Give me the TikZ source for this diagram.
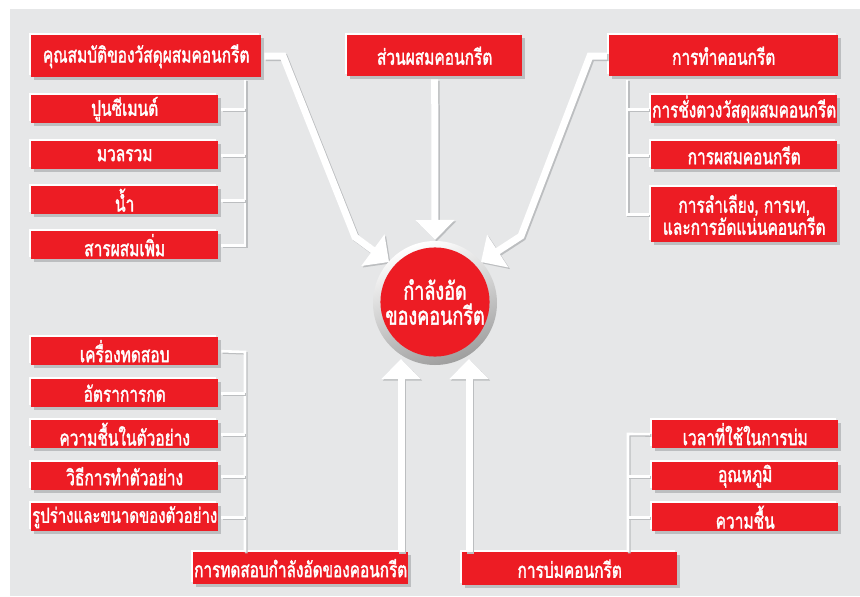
\documentclass[tikz,border=0pt]{standalone}
\usepackage{fontspec}
\usepackage{graphicx}
\newfontfamily\thaifont[Script=Thai, FakeStretch=0.72, FakeBold=1.6]{Loma}
\usetikzlibrary{arrows.meta,shadows}
\definecolor{bred}{HTML}{ED1C24}
\definecolor{bg}{HTML}{E6E7E8}
\definecolor{shg}{HTML}{BCBEC0}
\newcommand\twodraw[2]{%
  \draw[#1, draw=shg, transform canvas={xshift=1.3pt,yshift=-1.3pt}] #2;
  \draw[#1, draw=white] #2;}
\newcommand\twoarrow[2]{%
  \draw[#1, draw=shg, transform canvas={xshift=1.5pt,yshift=-1.5pt}] #2;
  \draw[#1, draw=white] #2;}
\begin{document}
\begin{tikzpicture}[x=1pt,y=-1pt,
  rbox/.style 2 args={fill=bred, text=white, anchor=north west, inner sep=0pt,
     minimum width=#1, minimum height=#2, align=center,
     font=\thaifont\fontsize{21.5}{22}\selectfont,
     general shadow={fill=shg, shadow xshift=3pt, shadow yshift=-3pt},
     general shadow={fill=white, shadow xshift=-2pt, shadow yshift=2pt}},
  bline/.style={line width=2.6pt},
  arr/.style={line width=7pt, line join=miter, -{Triangle[width=38pt,length=20pt]}},
]
\useasboundingbox (0,0) rectangle (860,597);
\fill[white] (0,0) rectangle (860,597);
\fill[bg] (10,9) rectangle (860,596);

% ---- connectors: brackets
\coordinate (tlv) at (245,80);
\coordinate (trv) at (627,80);
\coordinate (blv) at (245,352);
\coordinate (brv) at (628,434);

% ---- boxes
\node[rbox={230pt}{42pt}] (A) at (31,35) {คุณสมบัติของวัสดุผสมคอนกรีต};
\node[rbox={187pt}{28pt}] (PL1) at (31,95) {ปูนซีเมนต์};
\node[rbox={187pt}{28pt}] (PL2) at (31,141) {มวลรวม};
\node[rbox={187pt}{28pt}] (PL3) at (31,186) {น้ำ};
\node[rbox={187pt}{28pt}] (PL4) at (31,231) {สารผสมเพิ่ม};

\node[rbox={175pt}{41pt}] (B) at (347,35) {ส่วนผสมคอนกรีต};

\node[rbox={229pt}{41pt}] (C) at (609,35) {การทำคอนกรีต};
\node[rbox={186pt}{28pt}] (PR1) at (651,95) {\resizebox{184pt}{!}{การชั่งตวงวัสดุผสมคอนกรีต}};
\node[rbox={186pt}{28pt}] (PR2) at (651,141) {การผสมคอนกรีต};
\node[rbox={186pt}{55pt}] (PR3) at (651,187) {การลำเลียง, การเท,\\และการอัดแน่นคอนกรีต};

\node[rbox={187pt}{28pt}] (BL1) at (31,337) {เครื่องทดสอบ};
\node[rbox={187pt}{28pt}] (BL2) at (31,379) {อัตราการกด};
\node[rbox={187pt}{28pt}] (BL3) at (31,420) {ความชื้นในตัวอย่าง};
\node[rbox={187pt}{28pt}] (BL4) at (31,462) {วิธีการทำตัวอย่าง};
\node[rbox={187pt}{28pt}] (BL5) at (31,503) {\resizebox{185pt}{!}{รูปร่างและขนาดของตัวอย่าง}};
\node[rbox={215pt}{32pt}] (D) at (193,552) {\resizebox{213pt}{!}{การทดสอบกำลังอัดของคอนกรีต}};

\node[rbox={215pt}{33pt}] (E) at (462,552) {การบ่มคอนกรีต};
\node[rbox={186pt}{28pt}] (BR1) at (652,420) {เวลาที่ใช้ในการบ่ม};
\node[rbox={186pt}{28pt}] (BR2) at (652,462) {อุณหภูมิ};
\node[rbox={186pt}{28pt}] (BR3) at (652,503) {ความชื้น};

% ---- bracket lines
\twodraw{bline}{(tlv) -- (tlv |- PL4.east) -- ([xshift=3pt]PL4.east)}
\twodraw{bline}{(tlv |- PL1.east) -- ([xshift=3pt]PL1.east)}
\twodraw{bline}{(tlv |- PL2.east) -- ([xshift=3pt]PL2.east)}
\twodraw{bline}{(tlv |- PL3.east) -- ([xshift=3pt]PL3.east)}

\twodraw{bline}{(trv) -- (trv |- PR3.west) -- ([xshift=-2pt]PR3.west)}
\twodraw{bline}{(trv |- PR1.west) -- ([xshift=-2pt]PR1.west)}
\twodraw{bline}{(trv |- PR2.west) -- ([xshift=-2pt]PR2.west)}

\twodraw{bline}{([xshift=3pt]BL1.east) -- (blv) -- (blv |- D.north)}
\twodraw{bline}{(blv |- BL2.east) -- ([xshift=3pt]BL2.east)}
\twodraw{bline}{(blv |- BL3.east) -- ([xshift=3pt]BL3.east)}
\twodraw{bline}{(blv |- BL4.east) -- ([xshift=3pt]BL4.east)}
\twodraw{bline}{(blv |- BL5.east) -- ([xshift=3pt]BL5.east)}

\twodraw{bline}{([xshift=-2pt]BR1.west) -- (brv) -- (brv |- E.north)}
\twodraw{bline}{(brv |- BR2.west) -- ([xshift=-2pt]BR2.west)}
\twodraw{bline}{(brv |- BR3.west) -- ([xshift=-2pt]BR3.west)}

% ---- arrows to the core
\coordinate (tipL) at (389,262);
\coordinate (tipR) at (481,262);
\coordinate (tipT) at (435,240);
\coordinate (tipB1) at (401,359);
\coordinate (tipB2) at (469,359);
\coordinate (bL1) at (283,56);
\coordinate (bL2) at (355,237);
\coordinate (bR1) at (590,56);
\coordinate (bR2) at (521,236);
\twoarrow{arr}{([xshift=3pt]A.east |- bL1) -- (bL1) -- (bL2) -- (tipL)}
\twoarrow{arr}{([xshift=-2pt]C.west |- bR1) -- (bR1) -- (bR2) -- (tipR)}
\twoarrow{arr}{([yshift=-3pt]B.south) -- (tipT)}
\twoarrow{arr}{(D.north -| tipB1) -- (tipB1)}
\twoarrow{arr}{(E.north -| tipB2) -- (tipB2)}

% ---- core circle
\shade[left color=white, right color=black!38, shading angle=20] (435,303) circle (62);
\node[circle, fill=bred, minimum size=106pt, inner sep=0pt, text=white, align=center,
  font=\thaifont\fontsize{25}{25}\selectfont] (core) at (435,302) {กำลังอัด\\ของคอนกรีต};
\end{tikzpicture}
\end{document}
